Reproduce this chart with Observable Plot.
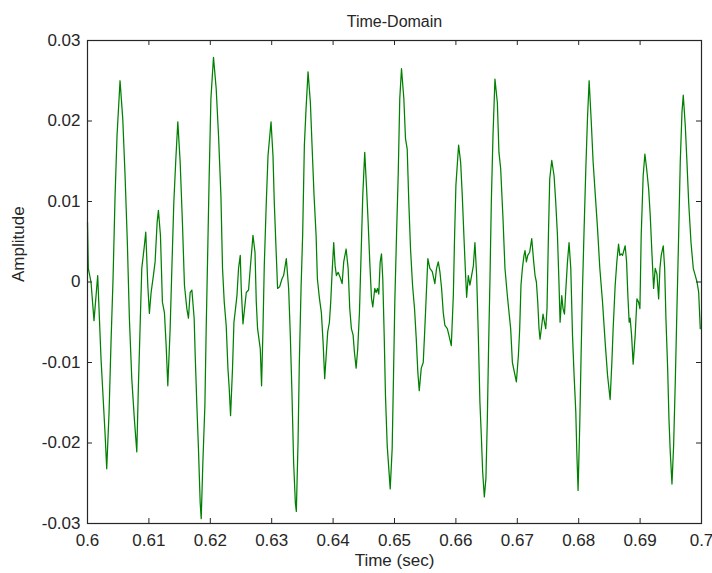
<!DOCTYPE html>
<html>
<head>
<meta charset="utf-8">
<script src="https://cdn.jsdelivr.net/npm/d3@7"></script>
<script src="https://cdn.jsdelivr.net/npm/@observablehq/plot@0.6"></script>
<style>
  html, body { margin: 0; padding: 0; background: #ffffff; }
  #chart svg { display: block; }
</style>
</head>
<body>
<div id="chart"></div>
<script>
const chartTitle = "Time-Domain";
const xLabel = "Time (sec)";
const yLabel = "Amplitude";

const xTicks = [0.6, 0.61, 0.62, 0.63, 0.64, 0.65, 0.66, 0.67, 0.68, 0.69, 0.7];
const xTickLabels = ["0.6", "0.61", "0.62", "0.63", "0.64", "0.65", "0.66", "0.67", "0.68", "0.69", "0.7"];
const yTicks = [-0.03, -0.02, -0.01, 0, 0.01, 0.02, 0.03];
const yTickLabels = ["-0.03", "-0.02", "-0.01", "0", "0.01", "0.02", "0.03"];

// time (s)
const times = [
  0.60000,0.60013,0.60057,0.60106,0.60166,0.60220,0.60285,0.60313,0.60351,0.60383,0.60416,0.60449,
  0.60481,0.60530,0.60574,0.60612,0.60649,0.60682,0.60721,0.60763,0.60803,0.60829,0.60856,0.60884,
  0.60922,0.60949,0.60982,0.61008,0.61036,0.61073,0.61101,0.61134,0.61155,0.61188,0.61220,0.61253,
  0.61281,0.61308,0.61346,0.61374,0.61406,0.61439,0.61471,0.61509,0.61546,0.61579,0.61618,0.61644,
  0.61672,0.61700,
  0.61737,0.61754,0.61781,0.61807,0.61835,0.61852,0.61879,0.61912,0.61933,0.61961,0.61982,0.62010,
  0.62052,0.62096,0.62134,0.62173,0.62199,0.62227,0.62259,0.62287,0.62308,0.62330,0.62362,0.62385,
  0.62411,0.62434,0.62460,0.62488,0.62504,0.62532,0.62558,0.62586,0.62623,0.62651,0.62695,0.62728,
  0.62749,0.62770,0.62814,0.62835,0.62858,0.62879,0.62912,0.62940,0.62989,0.63021,0.63042,0.63075,
  0.63096,0.63129,0.63168,0.63194,0.63238,0.63276,0.63303,0.63331,0.63357,0.63385,
  0.63401,0.63429,0.63450,0.63478,0.63504,0.63532,0.63560,0.63592,0.63630,0.63657,0.63690,0.63723,
  0.63744,0.63777,0.63809,0.63837,0.63863,0.63891,0.63912,0.63940,0.63961,0.63984,0.64010,0.64033,
  0.64054,0.64082,0.64114,0.64147,0.64173,0.64212,0.64245,0.64271,0.64298,0.64326,0.64347,0.64375,
  0.64401,0.64429,0.64457,0.64483,0.64515,0.64543,0.64571,0.64597,0.64625,0.64646,0.64679,0.64701,
  0.64723,0.64744,0.64767,0.64788,0.64809,0.64832,0.64853,0.64881,0.64930,0.64962,0.64984,0.65005,
  0.65033,0.65060,0.65086,0.65114,
  0.65152,0.65179,0.65207,0.65233,0.65261,0.65294,0.65326,0.65354,0.65380,0.65403,0.65436,0.65468,
  0.65489,0.65517,0.65543,0.65576,0.65615,0.65657,0.65685,0.65713,0.65739,0.65767,0.65794,0.65821,
  0.65860,0.65886,0.65925,0.65958,0.65979,0.66000,0.66044,0.66077,0.66104,0.66130,0.66158,0.66175,
  0.66202,0.66228,0.66256,0.66284,0.66310,0.66338,0.66365,0.66391,0.66414,0.66436,0.66463,0.66489,
  0.66512,0.66533,0.66555,0.66577,0.66604,0.66636,0.66675,0.66701,0.66729,0.66767,0.66799,0.66838,
  0.66868,0.66892,0.66920,0.66985,0.67018,0.67039,0.67060,0.67083,0.67109,0.67126,0.67148,0.67170,
  0.67202,0.67235,0.67267,0.67289,0.67311,0.67333,0.67354,0.67370,0.67398,0.67419,0.67442,0.67463,
  0.67484,0.67507,0.67528,0.67561,0.67599,0.67626,0.67654,0.67680,0.67697,0.67724,0.67745,0.67768,
  0.67790,0.67817,0.67843,0.67871,0.67899,0.67925,0.67953,0.67969,0.67990,0.68018,0.68039,0.68062,
  0.68088,0.68116,0.68143,0.68170,0.68202,0.68235,0.68267,0.68307,0.68344,0.68388,0.68431,0.68470,
  0.68512,
  0.68540,0.68561,0.68594,0.68621,0.68649,0.68670,0.68692,0.68714,0.68757,0.68780,0.68801,0.68822,
  0.68838,0.68861,0.68887,0.68920,0.68948,0.68975,0.68997,0.69018,0.69050,0.69078,0.69106,0.69139,
  0.69165,0.69192,0.69220,0.69246,0.69274,0.69302,0.69323,0.69344,0.69377,0.69400,0.69421,0.69449,
  0.69470,0.69491,0.69519,0.69546,0.69573,0.69600,0.69628,0.69654,0.69682,0.69703,0.69736,0.69763,
  0.69791,0.69829,0.69866,0.69899,0.69927,0.69954,0.69980
];

// amplitude
const amplitudes = [
  0.0074,0.0017,0.0000,-0.0048,0.0008,-0.0095,-0.0187,-0.0232,-0.0162,-0.0075,0.0004,0.0107,
  0.0182,0.0250,0.0203,0.0132,0.0049,-0.0045,-0.0120,-0.0170,-0.0211,-0.0129,-0.0058,0.0017,
  0.0042,0.0062,-0.0004,-0.0039,-0.0013,0.0008,0.0025,0.0074,0.0089,0.0058,-0.0025,-0.0038,
  -0.0079,-0.0129,-0.0058,0.0017,0.0099,0.0153,0.0199,0.0149,0.0074,-0.0004,-0.0033,-0.0045,
  -0.0013,-0.0010,
  -0.0045,-0.0091,-0.0153,-0.0207,-0.0274,-0.0294,-0.0224,-0.0153,-0.0058,0.0049,0.0132,0.0228,
  0.0279,0.0240,0.0182,0.0107,0.0017,-0.0025,-0.0054,-0.0107,-0.0132,-0.0166,-0.0107,-0.0050,
  -0.0033,-0.0017,0.0017,0.0033,-0.0008,-0.0052,-0.0033,-0.0013,-0.0010,0.0017,0.0058,0.0037,
  -0.0025,-0.0058,-0.0083,-0.0129,-0.0058,0.0020,0.0099,0.0157,0.0199,0.0157,0.0099,0.0033,
  -0.0008,-0.0006,0.0004,0.0008,0.0029,-0.0008,-0.0066,-0.0141,-0.0224,-0.0274,
  -0.0285,-0.0199,-0.0100,-0.0008,0.0058,0.0170,0.0216,0.0261,0.0223,0.0170,0.0107,0.0058,
  0.0004,-0.0020,-0.0038,-0.0075,-0.0120,-0.0087,-0.0062,-0.0050,-0.0025,0.0012,0.0049,0.0020,
  0.0008,0.0012,0.0006,-0.0002,0.0025,0.0041,0.0017,-0.0033,-0.0058,-0.0066,-0.0087,-0.0107,
  -0.0083,-0.0038,0.0037,0.0107,0.0161,0.0120,0.0074,0.0025,-0.0020,-0.0031,-0.0008,-0.0013,
  -0.0008,-0.0015,0.0025,0.0035,0.0004,-0.0066,-0.0141,-0.0203,-0.0257,-0.0207,-0.0116,-0.0025,
  0.0058,0.0132,0.0228,0.0265,
  0.0228,0.0178,0.0165,0.0099,0.0041,-0.0004,-0.0033,-0.0070,-0.0112,-0.0135,-0.0107,-0.0100,
  -0.0066,-0.0017,0.0029,0.0017,0.0013,-0.0002,0.0017,0.0025,0.0013,-0.0008,-0.0038,-0.0054,
  -0.0058,-0.0066,-0.0079,-0.0017,0.0058,0.0120,0.0170,0.0149,0.0107,0.0058,0.0008,-0.0019,
  0.0008,-0.0004,0.0008,0.0020,0.0049,0.0008,-0.0066,-0.0149,-0.0191,-0.0236,-0.0267,-0.0244,
  -0.0170,-0.0079,0.0004,0.0099,0.0182,0.0252,0.0223,0.0161,0.0141,0.0079,0.0017,-0.0017,
  -0.0040,-0.0058,-0.0100,-0.0124,-0.0091,-0.0058,-0.0004,0.0017,0.0033,0.0039,0.0025,0.0033,
  0.0037,0.0054,0.0025,0.0008,0.0000,-0.0025,-0.0058,-0.0071,-0.0054,-0.0040,-0.0050,-0.0058,
  -0.0033,0.0058,0.0128,0.0151,0.0132,0.0099,0.0058,-0.0004,-0.0050,-0.0017,-0.0033,-0.0040,
  -0.0010,0.0025,0.0049,0.0017,-0.0066,-0.0116,-0.0162,-0.0211,-0.0259,-0.0174,-0.0091,-0.0008,
  0.0066,0.0141,0.0203,0.0250,0.0203,0.0149,0.0112,0.0066,0.0017,-0.0025,-0.0075,-0.0116,
  -0.0146,
  -0.0100,-0.0058,-0.0004,0.0025,0.0047,0.0033,0.0035,0.0033,0.0045,0.0025,-0.0017,-0.0050,
  -0.0045,-0.0066,-0.0102,-0.0066,-0.0021,-0.0025,-0.0033,0.0058,0.0132,0.0159,0.0141,0.0116,
  0.0083,0.0037,-0.0008,0.0017,0.0010,-0.0021,0.0017,0.0033,0.0045,0.0017,-0.0046,-0.0108,
  -0.0170,-0.0211,-0.0251,-0.0203,-0.0124,-0.0033,0.0058,0.0149,0.0211,0.0232,0.0194,0.0149,
  0.0099,0.0049,0.0017,0.0008,0.0000,-0.0013,-0.0058
];

const n = Math.min(times.length, amplitudes.length);
const signal = d3.range(n).map(i => ({t: times[i], v: amplitudes[i]}));

const W = 712, H = 573;
const mL = 87, mR = 11, mT = 40, mB = 50;
const frameW = W - mL - mR, frameH = H - mT - mB;
const tick = 5;
const ink = "#262626";

const chart = Plot.plot({
  width: W,
  height: H,
  marginLeft: mL,
  marginRight: mR,
  marginTop: mT,
  marginBottom: mB,
  style: {
    background: "#ffffff",
    color: ink,
    fontFamily: "'Liberation Sans', Arial, Helvetica, sans-serif",
    fontSize: "17px"
  },
  x: {domain: [0.6, 0.7], label: null},
  y: {domain: [-0.03, 0.03], label: null},
  marks: [
    Plot.line(signal, {x: "t", y: "v", stroke: "#008000", strokeWidth: 1.25, curve: "linear"}),
    // inward ticks on all four sides
    Plot.ruleX(xTicks, {x: d => d, stroke: ink, insetTop: frameH - tick}),
    Plot.ruleX(xTicks, {x: d => d, stroke: ink, insetBottom: frameH - tick}),
    Plot.ruleY(yTicks, {y: d => d, stroke: ink, insetRight: frameW - tick}),
    Plot.ruleY(yTicks, {y: d => d, stroke: ink, insetLeft: frameW - tick}),
    Plot.frame({stroke: ink, strokeWidth: 1.2}),
    Plot.axisX(xTicks, {
      anchor: "bottom", tickSize: 0, tickPadding: 10,
      tickFormat: (d, i) => xTickLabels[i], label: null, fill: ink, fontSize: 17
    }),
    Plot.axisY(yTicks, {
      anchor: "left", tickSize: 0, tickPadding: 7,
      tickFormat: (d, i) => yTickLabels[i], label: null, fill: ink, fontSize: 17
    }),
    Plot.text([chartTitle], {frameAnchor: "top", dy: -25, fill: ink, fontSize: 16}),
    Plot.text([xLabel], {frameAnchor: "bottom", dy: 42, fill: ink, fontSize: 17}),
    Plot.text([yLabel], {frameAnchor: "left", dx: -(mL - 18), rotate: -90, fill: ink, fontSize: 17})
  ]
});

document.getElementById("chart").appendChild(chart);
</script>
</body>
</html>
